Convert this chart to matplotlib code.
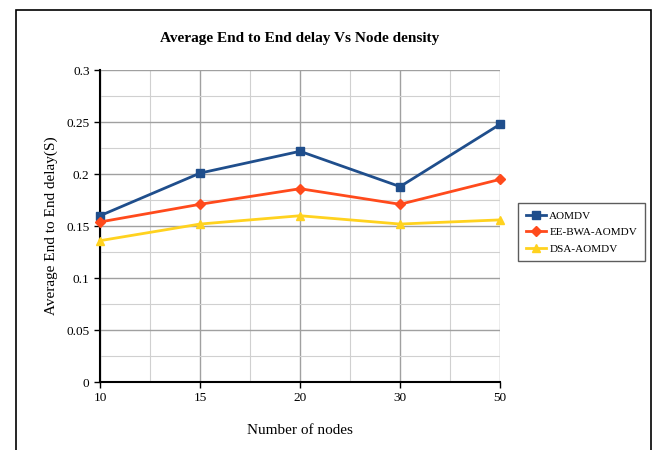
import matplotlib.pyplot as plt
from matplotlib.patches import Rectangle
import numpy as np

nodes = ['10', '15', '20', '30', '50']
aomdv = [0.160, 0.201, 0.222, 0.188, 0.248]
ee_bwa = [0.154, 0.171, 0.186, 0.171, 0.195]
dsa = [0.136, 0.152, 0.160, 0.152, 0.156]

plt.rcParams['font.family'] = ['Liberation Serif', 'DejaVu Serif']

fig = plt.figure(figsize=(6.58, 4.5), dpi=100)
ax = fig.add_axes([0.152, 0.151, 0.608, 0.693])

x = np.arange(len(nodes))
ax.plot(x, aomdv, color='#1f4e8c', lw=2, marker='s', ms=6, label='AOMDV', clip_on=False, zorder=5)
ax.plot(x, ee_bwa, color='#ff4a1c', lw=2, marker='D', ms=5, label='EE-BWA-AOMDV', clip_on=False, zorder=5)
ax.plot(x, dsa, color='#ffd21f', lw=2, marker='^', ms=6, label='DSA-AOMDV', clip_on=False, zorder=5)

ax.set_xlim(0, 4)
ax.set_ylim(0, 0.3)
ax.set_xticks(x)
ax.set_xticklabels(nodes)
ax.set_xticks(x[:-1] + 0.5, minor=True)
ax.set_yticks(np.arange(0, 0.31, 0.05))
ax.set_yticklabels(['0', '0.05', '0.1', '0.15', '0.2', '0.25', '0.3'])
ax.set_yticks(np.arange(0.025, 0.3, 0.05), minor=True)
ax.grid(True, which='major', color='#a0a0a0', lw=1)
ax.grid(True, which='minor', color='#d0d0d0', lw=0.8)
ax.tick_params(which='minor', length=0)
ax.tick_params(which='major', length=4, direction='out', labelsize=9.5, width=1)
for s in ['top', 'right']:
    ax.spines[s].set_visible(False)
ax.spines['left'].set_linewidth(1.5)
ax.spines['bottom'].set_linewidth(1.5)

ax.set_title('Average End to End delay Vs Node density', fontsize=11, fontweight='bold', pad=20)
ax.set_xlabel('Number of nodes', fontsize=11, labelpad=14)
ax.set_ylabel('Average End to End delay(S)', fontsize=11, labelpad=6)

leg = ax.legend(loc='center left', bbox_to_anchor=(1.045, 0.48), fontsize=8, frameon=True,
                fancybox=False, edgecolor='#333333', handlelength=1.8, handletextpad=0.3,
                borderpad=0.7, labelspacing=0.6, borderaxespad=0)
leg.get_frame().set_linewidth(1)

fig.patches.append(Rectangle((0.024, -0.01), 0.965, 0.988, transform=fig.transFigure,
                             fill=False, edgecolor='black', lw=1.2))

fig.savefig('out.png', dpi=100)
